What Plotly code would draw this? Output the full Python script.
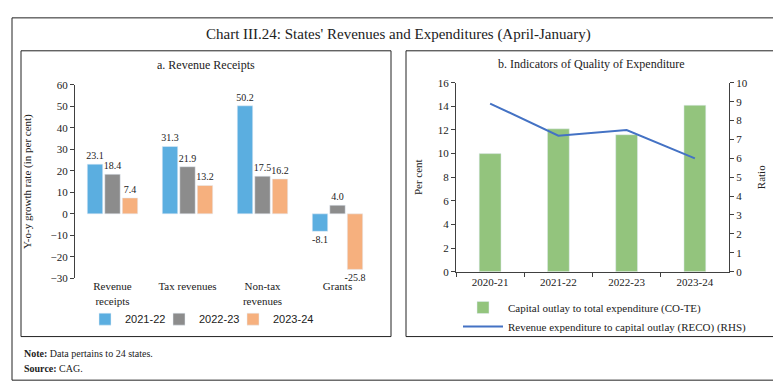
import plotly.graph_objects as go

W, H = 781, 383

# ---- data ----
rev_categories = ["Revenue<br>receipts", "Tax revenues", "Non-tax<br>revenues", "Grants"]
rev_2021_22 = [23.1, 31.3, 50.2, -8.1]
rev_2022_23 = [18.4, 21.9, 17.5, 4.0]
rev_2023_24 = [7.4, 13.2, 16.2, -25.8]

exp_years = ["2020-21", "2021-22", "2022-23", "2023-24"]
co_te = [10.0, 12.1, 11.6, 14.1]
reco = [8.9, 7.2, 7.5, 6.0]

SERIF = "Liberation Serif"
SANS = "Liberation Sans"
AX = "#404040"
TXT = "#222222"

def px(x):
    return x / W

def py(y):
    return (H - y) / H

fig = go.Figure()

# Panel a bars (one legend per series so they can sit close together)
series_a = [("2021-22", rev_2021_22, "#5BAEE0", "legend"),
            ("2022-23", rev_2022_23, "#8C8C8C", "legend3"),
            ("2023-24", rev_2023_24, "#F6B07E", "legend4")]
for name, vals, col, lg in series_a:
    fig.add_trace(go.Bar(
        x=rev_categories, y=vals, name=name, marker_color=col,
        text=[f"{v:.1f}" for v in vals], textposition="outside",
        constraintext="none",
        textfont=dict(family=SERIF, size=10, color=TXT),
        cliponaxis=False, xaxis="x", yaxis="y", legend=lg))

# Panel b bars + line
fig.add_trace(go.Bar(
    x=exp_years, y=co_te, name="Capital outlay to total expenditure (CO-TE)",
    marker_color="#93C47D", width=0.32, xaxis="x2", yaxis="y2", legend="legend2"))
fig.add_trace(go.Scatter(
    x=exp_years, y=reco, name="Revenue expenditure to capital outlay (RECO) (RHS)",
    mode="lines", line=dict(color="#4472C4", width=2), xaxis="x2", yaxis="y3",
    legend="legend2"))

ya_dom = [py(273), py(73)]
yb_dom = [py(266), py(71)]
xa_dom = [px(67), px(367)]
xb_dom = [px(448), px(721)]
tickfont = dict(family=SERIF, size=11, color=TXT)

zero_pos = ya_dom[0] + (ya_dom[1] - ya_dom[0]) * (30 / 90)

def small_legend(xpix):
    return dict(orientation="h", x=px(xpix), xanchor="left", y=py(315), yanchor="middle",
                font=dict(family=SANS, size=11, color=TXT), bgcolor="rgba(0,0,0,0)",
                itemwidth=30)

fig.update_layout(
    width=W, height=H, margin=dict(l=0, r=0, t=0, b=0),
    paper_bgcolor="white", plot_bgcolor="white",
    bargap=0.3, bargroupgap=0.12,
    uniformtext=dict(minsize=10, mode="show"),
    showlegend=True,
    xaxis=dict(domain=xa_dom, anchor="y", type="category", showline=False,
               ticks="", tickfont=tickfont, showgrid=False),
    xaxis3=dict(domain=xa_dom, overlaying="x", anchor="free", position=zero_pos,
                range=[-0.5, 3.5], tickvals=[0.5, 1.5, 2.5, 3.5], showticklabels=False,
                showline=True, linecolor="#808080", linewidth=1, ticks="outside",
                ticklen=4, tickcolor="#808080", showgrid=False, zeroline=False),
    yaxis=dict(domain=ya_dom, anchor="x", range=[-30, 60], dtick=10,
               showline=True, linecolor=AX, ticks="outside", ticklen=4, tickcolor=AX,
               showgrid=False, zeroline=False, tickfont=tickfont,
               title=dict(text="Y-o-y growth rate (in per cent)", standoff=16,
                          font=dict(family=SERIF, size=11, color=TXT))),
    xaxis2=dict(domain=xb_dom, anchor="y2", type="category", showline=True,
                linecolor=AX, ticks="outside", tickson="boundaries", ticklen=4,
                tickcolor=AX, tickfont=tickfont, showgrid=False),
    yaxis2=dict(domain=yb_dom, anchor="x2", range=[0, 16], dtick=2,
                showline=True, linecolor=AX, ticks="outside", ticklen=4, tickcolor=AX,
                showgrid=False, zeroline=False, tickfont=tickfont,
                title=dict(text="Per cent", standoff=12,
                           font=dict(family=SERIF, size=11, color=TXT))),
    yaxis3=dict(domain=yb_dom, anchor="x2", overlaying="y2", side="right",
                range=[0, 10], dtick=1, showline=True, linecolor=AX, ticks="outside",
                ticklen=4, tickcolor=AX, showgrid=False, zeroline=False,
                tickfont=tickfont,
                title=dict(text="Ratio", standoff=10,
                           font=dict(family=SERIF, size=11, color=TXT))),
    legend=small_legend(77),
    legend3=small_legend(151),
    legend4=small_legend(225),
    legend2=dict(orientation="v", x=px(450), xanchor="left", y=py(288), yanchor="top",
                 font=dict(family=SERIF, size=11, color=TXT), bgcolor="rgba(0,0,0,0)",
                 itemwidth=40, tracegroupgap=0),
)

# frames
fig.add_shape(type="rect", xref="paper", yref="paper", x0=px(4), x1=px(776),
              y0=py(378), y1=py(4), line=dict(color="#222", width=1))
fig.add_shape(type="rect", xref="paper", yref="paper", x0=px(13), x1=px(383),
              y0=py(333), y1=py(38), line=dict(color="#222", width=1))
fig.add_shape(type="rect", xref="paper", yref="paper", x0=px(398), x1=px(767),
              y0=py(333), y1=py(38), line=dict(color="#222", width=1))

ann = [
    dict(text="Chart III.24: States' Revenues and Expenditures (April-January)",
         x=0.5, y=py(21), font=dict(family=SERIF, size=15, color=TXT)),
    dict(text="a. Revenue Receipts", x=px(198), y=py(53),
         font=dict(family=SERIF, size=12, color=TXT)),
    dict(text="b. Indicators of Quality of Expenditure", x=px(583), y=py(52),
         font=dict(family=SERIF, size=12, color=TXT)),
    dict(text="<b>Note:</b> Data pertains to 24 states.", x=px(14), y=py(350),
         xanchor="left", font=dict(family=SERIF, size=10, color=TXT)),
    dict(text="<b>Source:</b> CAG.", x=px(14), y=py(366),
         xanchor="left", font=dict(family=SERIF, size=10, color=TXT)),
]
for a in ann:
    a.setdefault("xanchor", "center")
    fig.add_annotation(xref="paper", yref="paper", yanchor="middle", showarrow=False, **a)

fig.write_html("out.html")
